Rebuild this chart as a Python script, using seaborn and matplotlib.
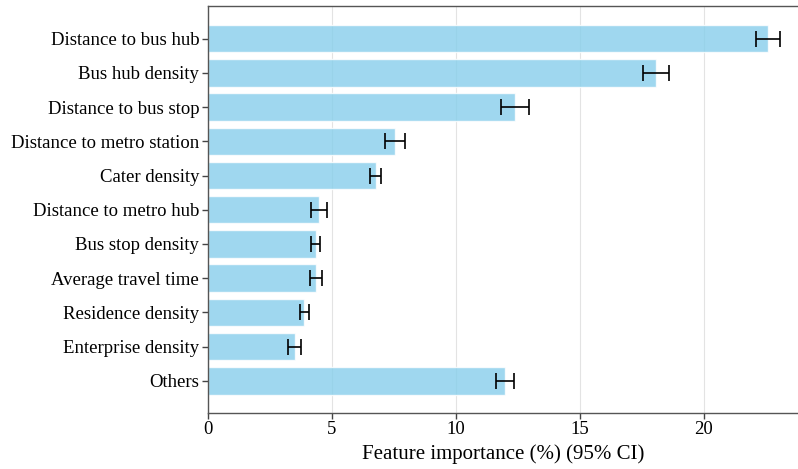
import matplotlib
matplotlib.use("Agg")
import matplotlib.pyplot as plt
import seaborn as sns
import pandas as pd

features = [
    "Distance to bus hub",
    "Bus hub density",
    "Distance to bus stop",
    "Distance to metro station",
    "Cater density",
    "Distance to metro hub",
    "Bus stop density",
    "Average travel time",
    "Residence density",
    "Enterprise density",
    "Others",
]
importance = [22.60, 18.08, 12.39, 7.56, 6.78, 4.49, 4.36, 4.36, 3.91, 3.51, 12.00]
ci_half = [0.50, 0.53, 0.57, 0.42, 0.23, 0.32, 0.18, 0.24, 0.20, 0.25, 0.35]
x_ticks = [0, 5, 10, 15, 20]

sns.set_style("white")
plt.rcParams["font.family"] = ["Liberation Serif", "DejaVu Serif"]
plt.rcParams.update({"text.color": "black", "axes.labelcolor": "black",
                     "xtick.labelcolor": "black", "ytick.labelcolor": "black"})

df = pd.DataFrame({"feature": features, "importance": importance, "ci": ci_half})

fig = plt.figure(figsize=(7.98, 4.69), dpi=100)
W, H = 798, 469
ax = fig.add_axes([207.5 / W, (H - 413) / H, (798.5 - 207.5) / W, (413 - 6.5) / H])

sns.barplot(data=df, x="importance", y="feature", orient="h", color="skyblue",
            alpha=0.8, width=0.8, saturation=1, ax=ax, zorder=2)
ax.errorbar(df["importance"], range(len(df)), xerr=df["ci"], fmt="none",
            ecolor="black", elinewidth=1.2, capsize=5.5, capthick=1.2, zorder=3)

ax.set_ylim(len(features) - 1 + 0.94, -0.94)
ax.set_xlim(0, 23.83)
ax.set_xticks(x_ticks)
ax.xaxis.grid(True, color="#e3e3e3", linewidth=0.8, zorder=0)
ax.set_axisbelow(True)

ax.set_xlabel("Feature importance (%) (95% CI)", fontsize=15, labelpad=4, color="black")
ax.set_ylabel("")
ax.tick_params(axis="both", labelsize=13.5, length=4, width=1, color="#444444",
               labelcolor="black", left=True, bottom=True, pad=2)
for s in ax.spines.values():
    s.set_color("#555555")
    s.set_linewidth(1.0)

fig.savefig("out.png", dpi=100)
